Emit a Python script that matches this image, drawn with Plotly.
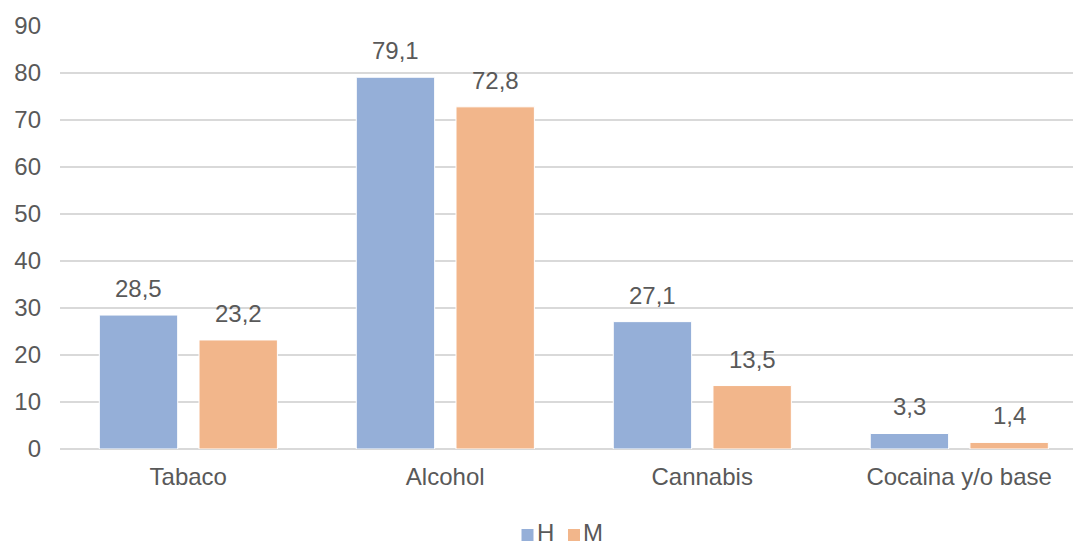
import plotly.graph_objects as go

# Prevalencia de consumo por sustancia y sexo (%)
categories = ["Tabaco", "Alcohol", "Cannabis", "Cocaina y/o base"]
hombres = [28.5, 79.1, 27.1, 3.3]
mujeres = [23.2, 72.8, 13.5, 1.4]
y_ticks = [0, 10, 20, 30, 40, 50, 60, 70, 80, 90]
series_names = ["H", "M"]

BLUE = "#95AFD8"
ORANGE = "#F2B68B"
TEXT = "#595959"
GRID = "#D9D9D9"
FONT = "Liberation Sans, Arial, sans-serif"
FS = 24

BAR_W = 0.305
OFF_H = -0.346
OFF_M = 0.042

W, H = 1073, 546
M_L, M_R, M_T, M_B = 60, 0, 26, 97
PLOT_W = W - M_L - M_R
PLOT_H = H - M_T - M_B

xpos = list(range(len(categories)))


def fmt(v):
    return f"{v:.1f}".replace(".", ",")


def px_x(px):
    """Pixel horizontal -> fracción del área de trazado."""
    return (px - M_L) / PLOT_W


def px_y(py):
    """Pixel vertical (desde arriba) -> fracción del área de trazado."""
    return (H - M_B - py) / PLOT_H


fig = go.Figure()
for name, vals, off, col in ((series_names[0], hombres, OFF_H, BLUE),
                             (series_names[1], mujeres, OFF_M, ORANGE)):
    fig.add_trace(go.Bar(
        name=name, x=xpos, y=vals, width=BAR_W, offset=off,
        marker=dict(color=col, line=dict(color="white", width=1)),
        showlegend=False,
    ))

annotations = []
for series, off in ((hombres, OFF_H), (mujeres, OFF_M)):
    for i, v in enumerate(series):
        annotations.append(dict(
            x=i + off + BAR_W / 2, y=v, xref="x", yref="y",
            text=fmt(v), showarrow=False, yanchor="bottom", yshift=11,
            font=dict(family=FONT, size=FS, color=TEXT),
        ))

# Leyenda inferior: cuadrado de color + nombre de la serie
shapes = []
for name, col, sq_left in ((series_names[0], BLUE, 521.5),
                           (series_names[1], ORANGE, 568)):
    shapes.append(dict(
        type="rect", xref="paper", yref="paper",
        x0=px_x(sq_left), x1=px_x(sq_left + 12),
        y0=px_y(541), y1=px_y(529),
        line=dict(width=0), fillcolor=col,
    ))
    annotations.append(dict(
        x=px_x(sq_left + 14), y=px_y(532), xref="paper", yref="paper",
        text=name, showarrow=False, xanchor="left", yanchor="middle",
        borderpad=0,
        font=dict(family=FONT, size=FS, color=TEXT),
    ))

fig.update_layout(
    width=W, height=H,
    margin=dict(l=M_L, r=M_R, t=M_T, b=M_B, autoexpand=False),
    paper_bgcolor="white", plot_bgcolor="white",
    barmode="overlay",
    font=dict(family=FONT, size=FS, color=TEXT),
    annotations=annotations,
    shapes=shapes,
    showlegend=False,
    xaxis=dict(
        range=[-0.499, 3.443], tickmode="array", tickvals=xpos,
        ticktext=categories, showgrid=False, zeroline=False,
        showline=False, ticks="", ticklabelstandoff=11, automargin=False,
        tickfont=dict(family=FONT, size=FS, color=TEXT),
    ),
    yaxis=dict(
        range=[0, 90], tickmode="array", tickvals=y_ticks,
        showgrid=True, gridcolor=GRID, gridwidth=2,
        zeroline=True, zerolinecolor=GRID, zerolinewidth=2,
        showline=False, ticks="", ticklabelstandoff=18, automargin=False,
        tickfont=dict(family=FONT, size=FS, color=TEXT),
    ),
)

fig.write_html("out.html")
